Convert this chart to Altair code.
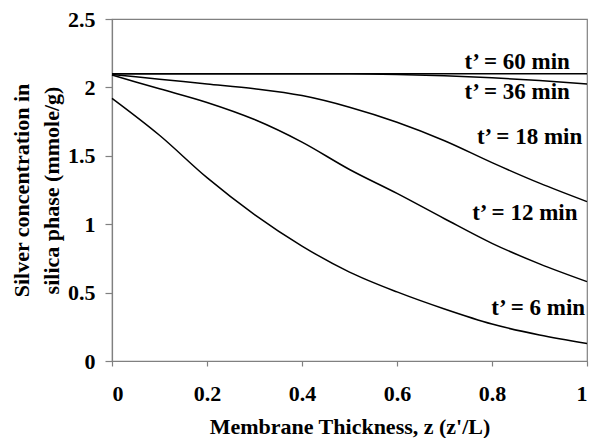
import altair as alt
import pandas as pd

z = [0.0, 0.1, 0.2, 0.3, 0.4, 0.5, 0.6, 0.7, 0.8, 0.9, 1.0]

t60 = [2.10, 2.10, 2.10, 2.10, 2.10, 2.10, 2.10, 2.10, 2.10, 2.10, 2.10]
t36 = [2.10, 2.10, 2.10, 2.10, 2.10, 2.10, 2.095, 2.085, 2.07, 2.05, 2.025]
t18 = [2.095, 2.06, 2.025, 1.99, 1.94, 1.855, 1.745, 1.61, 1.45, 1.30, 1.165]
t12 = [2.09, 1.99, 1.89, 1.765, 1.60, 1.40, 1.225, 1.04, 0.86, 0.71, 0.58]
t6 = [1.92, 1.65, 1.34, 1.07, 0.84, 0.65, 0.505, 0.38, 0.27, 0.19, 0.128]

series_names = ["t’ = 60 min", "t’ = 36 min", "t’ = 18 min", "t’ = 12 min", "t’ = 6 min"]
series_values = [t60, t36, t18, t12, t6]

# label anchor points (data units)
label_x = [0.964, 0.964, 0.99, 0.98, 0.996]
label_y = [2.185, 1.966, 1.637, 1.082, 0.389]

rows = []
for name, vals in zip(series_names, series_values):
    for zi, v in zip(z, vals):
        rows.append({"z": zi, "c": v, "series": name})
df = pd.DataFrame(rows)

labels = pd.DataFrame({"text": series_names, "x": label_x, "y": label_y})

FONT = "Liberation Serif"

xscale = alt.Scale(domain=[0, 1], nice=False)
yscale = alt.Scale(domain=[0, 2.5], nice=False)

lines = alt.Chart(df).mark_line(color="black", strokeWidth=1.5, interpolate="monotone").encode(
    x=alt.X("z:Q", scale=xscale,
            axis=alt.Axis(title="Membrane Thickness, z (z'/L)", values=[0, 0.2, 0.4, 0.6, 0.8, 1],
                          format="~g", grid=False, tickSize=5, labelPadding=17,
                          titleY=72, titleBaseline="alphabetic")),
    y=alt.Y("c:Q", scale=yscale,
            axis=alt.Axis(title=["Silver concentration in", "silica phase (mmole/g)"],
                          values=[0, 0.5, 1, 1.5, 2, 2.5], format="~g", grid=False,
                          tickSize=7, labelPadding=10,
                          titleX=-91, titleY=171, titleAngle=270, titleAlign="center",
                          titleBaseline="middle", titleLineHeight=30)),
    detail="series:N",
)

text = alt.Chart(labels).mark_text(align="right", baseline="middle", font=FONT,
                                    fontWeight="bold", fontSize=23, color="black").encode(
    x=alt.X("x:Q", scale=xscale),
    y=alt.Y("y:Q", scale=yscale),
    text="text:N",
)

chart = (lines + text).properties(
    width=475, height=342,
    autosize=alt.AutoSizeParams(type="none"),
    padding={"left": 104, "top": 11, "right": 5, "bottom": 77},
).configure_view(stroke="#808080", strokeWidth=1.2).configure_axis(
    domainColor="#808080", tickColor="#808080", domainWidth=1.2, tickWidth=1.2,
    labelFont=FONT, labelFontWeight="bold", labelFontSize=22, labelColor="black",
    titleFont=FONT, titleFontWeight="bold", titleFontSize=22, titleColor="black",
)

chart.save("out.html", embed_options={"renderer": "svg", "actions": False})
